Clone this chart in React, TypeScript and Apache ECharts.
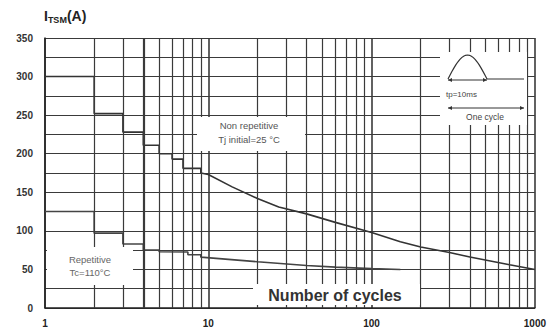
import React, { useEffect, useRef } from "react";
import * as echarts from "echarts";

const nonRepetitive: [number, number][] = [
  [1, 300], [2, 300], [2, 252], [3, 252], [3, 228], [4, 228], [4, 211], [5, 211],
  [5, 200], [6, 200], [6, 193], [7, 193], [7, 181], [9, 181], [9, 175], [10, 173],
  [14, 157], [20, 142], [27, 131], [40, 122], [60, 111], [100, 98], [150, 86],
  [200, 79], [300, 72], [400, 66], [700, 56], [1000, 50],
];
const repetitive: [number, number][] = [
  [1, 125], [2, 125], [2, 97], [3, 97], [3, 83], [4, 83], [4, 75], [5, 75],
  [5, 73], [7.5, 72.5], [7.5, 69], [9, 69], [9, 66], [20, 60], [40, 55], [60, 53],
  [100, 51], [150, 50],
];
const yTicks = [0, 50, 100, 150, 200, 250, 300, 350];
const xMinorGrid = [2, 3, 4, 5, 6, 7, 8, 9, 20, 30, 40, 50, 60, 70, 80, 90, 200, 300, 400, 500, 600, 700, 800, 900];
const thickGrid = [4];

const FONT = "Liberation Sans, Arial, sans-serif";

export default function App() {
  const ref = useRef<HTMLDivElement>(null);
  useEffect(() => {
    if (!ref.current) return;
    const chart = echarts.init(ref.current, undefined, { renderer: "svg" });
    const gridColor = "#3a3a3a";
    // half-sine pulse icon points (decoration)
    const pulse: number[][] = [];
    for (let i = 0; i <= 20; i++) {
      const t = i / 20;
      pulse.push([448 + t * 39, 79 - Math.sin(Math.PI * t) * 24]);
    }
    chart.setOption({
      animation: false,
      backgroundColor: "#fff",
      textStyle: { fontFamily: FONT },
      grid: { left: 45, right: 12, top: 38, bottom: 28 },
      xAxis: {
        type: "log",
        logBase: 10,
        min: 1,
        max: 1000,
        axisLine: { show: true, lineStyle: { color: "#222", width: 1.5 } },
        axisTick: { show: false },
        axisLabel: {
          color: "#222",
          fontSize: 10,
          fontWeight: "bold",
          margin: 10,
          fontFamily: FONT,
          formatter: (v: number) => String(Math.round(v)),
        },
        splitLine: { show: true, lineStyle: { color: gridColor, width: 1.6 } },
      },
      yAxis: {
        type: "value",
        min: 0,
        max: 350,
        interval: 25,
        axisLine: { show: true, lineStyle: { color: "#222", width: 1.5 } },
        axisTick: { show: false },
        axisLabel: {
          color: "#333",
          fontSize: 10,
          fontWeight: "bold",
          margin: 12,
          fontFamily: FONT,
          formatter: (v: number) => (yTicks.includes(v) ? String(v) : ""),
        },
        splitLine: { show: true, lineStyle: { color: gridColor, width: 1.2 } },
      },
      series: [
        {
          type: "line",
          data: nonRepetitive,
          symbol: "none",
          lineStyle: { color: "#333", width: 1.6 },
          markLine: {
            silent: true,
            symbol: "none",
            label: { show: false },
            data: xMinorGrid.map((x) => ({
              xAxis: x,
              lineStyle: { color: gridColor, width: thickGrid.includes(x) ? 2.2 : 1.2, type: "solid" },
            })),
          },
          z: 3,
        },
        {
          type: "line",
          data: repetitive,
          symbol: "none",
          lineStyle: { color: "#444", width: 1.6 },
          z: 3,
        },
      ],
      graphic: [
        {
          type: "text",
          left: 44,
          top: 9,
          style: {
            text: "{a|I}{b|TSM}{a|(A)}",
            rich: {
              a: { fontSize: 14, fontWeight: "bold", fill: "#222", fontFamily: FONT },
              b: { fontSize: 9, fontWeight: "bold", fill: "#222", fontFamily: FONT, padding: [7, 0, 0, 0] },
            },
          },
        },
        // Non repetitive label
        { type: "rect", shape: { x: 197, y: 117, width: 108, height: 34 }, style: { fill: "#fff" }, z: 10 },
        {
          type: "text",
          x: 249,
          y: 132,
          z: 11,
          style: {
            text: "Non repetitive\nTj initial=25 °C",
            align: "center",
            verticalAlign: "middle",
            fontSize: 9.5,
            lineHeight: 14,
            fill: "#555",
            fontFamily: FONT,
          },
        },
        // Repetitive label
        { type: "rect", shape: { x: 47, y: 247, width: 86, height: 38 }, style: { fill: "#fff" }, z: 10 },
        {
          type: "text",
          x: 90,
          y: 266,
          z: 11,
          style: {
            text: "Repetitive\nTc=110°C",
            align: "center",
            verticalAlign: "middle",
            fontSize: 9.5,
            lineHeight: 13,
            fill: "#666",
            fontFamily: FONT,
          },
        },
        // Number of cycles
        { type: "rect", shape: { x: 253, y: 284, width: 167, height: 21 }, style: { fill: "#fff" }, z: 10 },
        {
          type: "text",
          x: 335,
          y: 295,
          z: 11,
          style: {
            text: "Number of cycles",
            align: "center",
            verticalAlign: "middle",
            fontSize: 16,
            fontWeight: "bold",
            fill: "#333",
            fontFamily: FONT,
          },
        },
        // Inset
        { type: "rect", shape: { x: 440, y: 52, width: 87, height: 73 }, style: { fill: "#fff" }, z: 10 },
        { type: "polyline", shape: { points: pulse }, style: { stroke: "#333", lineWidth: 1.2, fill: "none" }, z: 11 },
        { type: "line", shape: { x1: 487, y1: 79, x2: 524, y2: 79 }, style: { stroke: "#333", lineWidth: 1.2 }, z: 11 },
        { type: "line", shape: { x1: 448, y1: 80, x2: 487, y2: 80 }, style: { stroke: "#333", lineWidth: 1 }, z: 11 },
        { type: "polygon", shape: { points: [[448, 80], [452, 78], [452, 82]] }, style: { fill: "#333" }, z: 11 },
        { type: "polygon", shape: { points: [[487, 80], [483, 78], [483, 82]] }, style: { fill: "#333" }, z: 11 },
        {
          type: "text",
          x: 446,
          y: 94,
          z: 11,
          style: { text: "tp=10ms", fontSize: 8, fill: "#444", verticalAlign: "middle", fontFamily: FONT },
        },
        { type: "line", shape: { x1: 448, y1: 108, x2: 524, y2: 108 }, style: { stroke: "#333", lineWidth: 1 }, z: 11 },
        { type: "polygon", shape: { points: [[448, 108], [452, 106], [452, 110]] }, style: { fill: "#333" }, z: 11 },
        { type: "polygon", shape: { points: [[524, 108], [520, 106], [520, 110]] }, style: { fill: "#333" }, z: 11 },
        {
          type: "text",
          x: 485,
          y: 117,
          z: 11,
          style: { text: "One cycle", fontSize: 8.5, fill: "#444", align: "center", verticalAlign: "middle", fontFamily: FONT },
        },
      ],
    });
    return () => chart.dispose();
  }, []);
  return <div ref={ref} style={{ width: 549, height: 336, position: "absolute", left: 0, top: 0 }} />;
}
